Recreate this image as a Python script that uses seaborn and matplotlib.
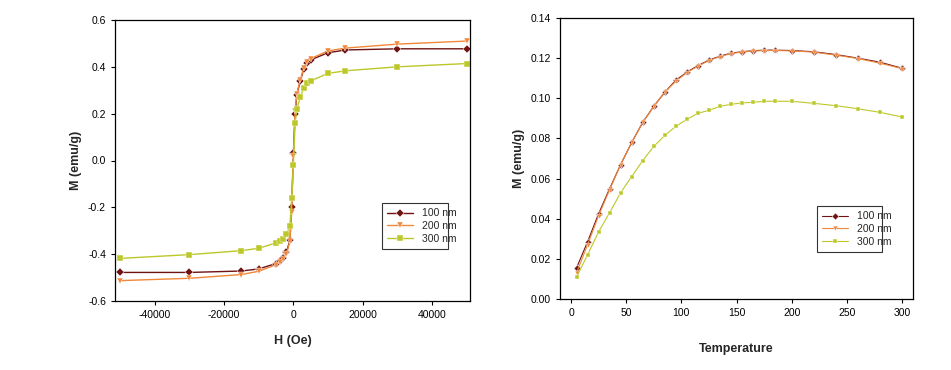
import numpy as np
import pandas as pd
import matplotlib
matplotlib.use("Agg")
import matplotlib.pyplot as plt
import seaborn as sns

sns.set_theme(style="white")
plt.rcParams['font.family'] = ['Liberation Sans', 'DejaVu Sans']
plt.rcParams['axes.unicode_minus'] = False

labels = ["100 nm", "200 nm", "300 nm"]
colors = ["#6E1212", "#F0873A", "#BCC829"]
markers = ["D", "v", "s"]

# Hysteresis loop
H = [-50000, -30000, -15000, -10000, -5000, -4000, -3000, -2000, -1000, -500, 0,
     500, 1000, 2000, 3000, 4000, 5000, 10000, 15000, 30000, 50000]
M100 = [-0.478, -0.478, -0.472, -0.463, -0.440, -0.430, -0.415, -0.392, -0.340, -0.200, 0.030,
        0.200, 0.280, 0.340, 0.390, 0.415, 0.430, 0.460, 0.472, 0.477, 0.477]
M200 = [-0.513, -0.503, -0.487, -0.473, -0.445, -0.435, -0.420, -0.400, -0.345, -0.220, 0.020,
        0.210, 0.285, 0.345, 0.395, 0.420, 0.435, 0.468, 0.480, 0.497, 0.510]
M300 = [-0.418, -0.402, -0.385, -0.375, -0.352, -0.345, -0.335, -0.315, -0.280, -0.160, -0.020,
        0.160, 0.220, 0.270, 0.310, 0.330, 0.340, 0.372, 0.383, 0.400, 0.414]

# Temperature dependence
T = [5, 15, 25, 35, 45, 55, 65, 75, 85, 95, 105, 115, 125, 135, 145, 155, 165, 175, 185,
     200, 220, 240, 260, 280, 300]
MT100 = [0.0155, 0.0285, 0.0425, 0.0550, 0.0670, 0.0780, 0.0880, 0.0960, 0.1030, 0.1090,
         0.1130, 0.1163, 0.1190, 0.1210, 0.1225, 0.1232, 0.1237, 0.1240, 0.1240,
         0.1238, 0.1232, 0.1218, 0.1200, 0.1180, 0.1150]
MT200 = [0.0130, 0.0270, 0.0415, 0.0545, 0.0670, 0.0780, 0.0880, 0.0960, 0.1030, 0.1085,
         0.1128, 0.1160, 0.1188, 0.1208, 0.1223, 0.1230, 0.1235, 0.1238, 0.1238,
         0.1236, 0.1230, 0.1215, 0.1198, 0.1175, 0.1148]
MT300 = [0.0110, 0.0220, 0.0335, 0.0430, 0.0530, 0.0610, 0.0690, 0.0760, 0.0815, 0.0860,
         0.0895, 0.0925, 0.0940, 0.0960, 0.0970, 0.0977, 0.0980, 0.0985, 0.0985,
         0.0985, 0.0975, 0.0963, 0.0948, 0.0930, 0.0907]

dfH = pd.concat([pd.DataFrame({"H": H, "M": m, "Sample": l})
                 for m, l in zip([M100, M200, M300], labels)], ignore_index=True)
dfT = pd.concat([pd.DataFrame({"T": T, "M": m, "Sample": l})
                 for m, l in zip([MT100, MT200, MT300], labels)], ignore_index=True)

fig = plt.figure(figsize=(9.51, 3.70), dpi=100)
ax1 = fig.add_axes([115/951, 69/370, 355/951, 281/370])
ax2 = fig.add_axes([560/951, 71/370, 353/951, 281/370])

pal = dict(zip(labels, colors))
mk = dict(zip(labels, markers))

sns.lineplot(data=dfH, x="H", y="M", hue="Sample", style="Sample", palette=pal,
             markers=mk, dashes=False, sort=False, ax=ax1, linewidth=1.0,
             markersize=4.5, markeredgewidth=0.3)
sns.lineplot(data=dfT, x="T", y="M", hue="Sample", style="Sample", palette=pal,
             markers=mk, dashes=False, sort=False, ax=ax2, linewidth=0.8,
             markersize=3.5, markeredgewidth=0.3)

ax1.set_xlim(-51500, 51000)
ax1.set_ylim(-0.6, 0.6)
ax1.set_xticks([-40000, -20000, 0, 20000, 40000])
ax1.set_yticks(np.round(np.arange(-0.6, 0.61, 0.2), 1))
ax1.set_yticklabels([f"{v:.1f}" for v in np.arange(-0.6, 0.61, 0.2)])
ax1.set_xlabel("H (Oe)", fontsize=9, fontweight="bold", labelpad=11)
ax1.set_ylabel("M (emu/g)", fontsize=9, fontweight="bold", labelpad=4)

ax2.set_xlim(-10, 310)
ax2.set_ylim(0, 0.14)
ax2.set_xticks([0, 50, 100, 150, 200, 250, 300])
ax2.set_yticks(np.arange(0, 0.141, 0.02))
ax2.set_yticklabels([f"{v:.2f}" for v in np.arange(0, 0.141, 0.02)])
ax2.set_xlabel("Temperature", fontsize=9, fontweight="bold", labelpad=18)
ax2.set_ylabel("M (emu/g)", fontsize=9, fontweight="bold", labelpad=4)

for ax in (ax1, ax2):
    ax.tick_params(axis="both", which="both", direction="out", length=3, width=0.8,
                   labelsize=7.5, bottom=True, left=True, colors="black")
    for s in ax.spines.values():
        s.set_color("black")
        s.set_linewidth(0.9)

leg1 = ax1.legend(loc="lower left", bbox_to_anchor=(262/355, 47/281, 76/355, 56/281),
                  mode="expand", fontsize=7.5, frameon=True, fancybox=False,
                  borderpad=0.5, handlelength=2.5, labelspacing=0.25, title=None)
leg2 = ax2.legend(loc="lower left", bbox_to_anchor=(252/353, 42/281, 75/353, 55/281),
                  mode="expand", fontsize=7.5, frameon=True, fancybox=False,
                  borderpad=0.5, handlelength=2.5, labelspacing=0.25, title=None)
for leg in (leg1, leg2):
    leg.get_frame().set_edgecolor("black")
    leg.get_frame().set_linewidth(0.8)

fig.savefig("out.png", dpi=100, facecolor="white")
